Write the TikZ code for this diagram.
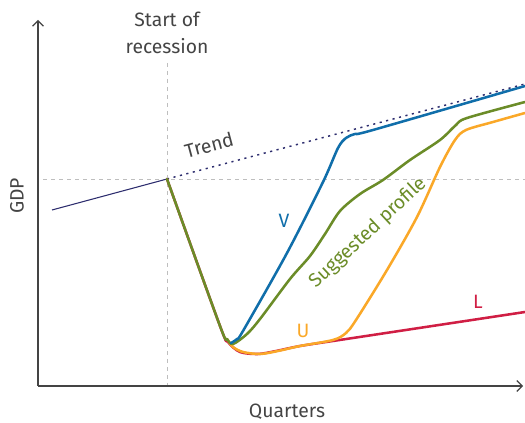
\documentclass[tikz,border=0pt]{standalone}
\usepackage{fontspec}
\setmainfont{Fira Sans}
\usetikzlibrary{arrows.meta}
\definecolor{axisgray}{RGB}{68,68,68}
\definecolor{guidegray}{RGB}{190,190,190}
\definecolor{navyline}{RGB}{45,45,110}
\definecolor{vblue}{RGB}{16,110,170}
\definecolor{sgreen}{RGB}{107,140,40}
\definecolor{uorange}{RGB}{250,168,40}
\definecolor{lred}{RGB}{208,30,68}
\tikzset{
  axisline/.style={draw=axisgray, line width=0.9pt, -{Straight Barb[length=4pt,width=8pt]}},
  guideline/.style={draw=guidegray, line width=0.6pt, dash pattern=on 3pt off 3pt},
  curve/.style={line width=1.9pt, line cap=round, line join=round},
  lbl/.style={font=\fontsize{14.5}{20}\selectfont, text=axisgray, inner sep=0pt},
}
\begin{document}
\begin{tikzpicture}[x=0.75pt,y=-0.75pt]
\useasboundingbox (0,0) rectangle (525,423);
% guides
\coordinate (origin) at (38,386);
\coordinate (ytop) at (38,20);
\coordinate (xend) at (523,386);
\coordinate (rtop) at (167,63);
\coordinate (rbot) at (167,386);
\coordinate (hleft) at (43,179);
\coordinate (hright) at (525,179);
\coordinate (start) at (167,179);
\coordinate (pre) at (52,210);
\coordinate (trendend) at (525,84);
\draw[guideline] (rtop) -- (rbot);
\draw[guideline] (hleft) -- (hright);
% axes
\draw[axisline] (origin) -- (ytop);
\draw[axisline] (origin) -- (xend);
% pre-recession and trend
\draw[navyline, line width=0.8pt] (pre) -- (start);
\draw[navyline, line width=1.1pt, dash pattern=on 1.6pt off 3.4pt] (start) -- (trendend);
% L
\draw[curve, lred] plot[smooth, tension=0.5] coordinates {(167,179) (220,326) (228,342) (240,352) (258,354) (276,351) (300,346) (333,341)} -- (525,312);
% U
\draw[curve, uorange] plot[smooth, tension=0.5] coordinates {(227,339) (233,347) (243,352) (260,354) (278,351) (300,346) (333,340) (346,333) (356,320) (387,270) (417,217) (440,167) (455,140) (466,130) (493,122) (525,113)};
% suggested profile
\draw[curve, sgreen] plot[smooth, tension=0.5] coordinates {(167,179) (220,326) (227,339) (233,344) (247,334) (260,319) (290,279) (310,256) (325,234) (340,211) (360,194) (383,180) (410,160) (440,140) (456,125) (467,118) (525,102)};
% V
\draw[curve, vblue] plot[smooth, tension=0.5] coordinates {(231,343) (237,339) (243,331) (287,253) (323,182) (338,148) (346,138) (355,134) (373,130) (525,86)};
% labels
\node[lbl, align=center] (startlbl) at (167,33) {Start of\\recession};
\node[lbl, rotate=90] (gdp) at (17,196) {GDP};
\node[lbl] (quarters) at (287,412) {Quarters};
\node[lbl, rotate=15] (trend) at (209,145) {Trend};
\node[lbl, text=vblue] (vlbl) at (284,221) {V};
\node[lbl, text=uorange] (ulbl) at (303,331) {U};
\node[lbl, text=lred] (llbl) at (478,302) {L};
\node[lbl, text=sgreen, rotate=43] (sugg) at (368,233) {Suggested profile};
\end{tikzpicture}
\end{document}
